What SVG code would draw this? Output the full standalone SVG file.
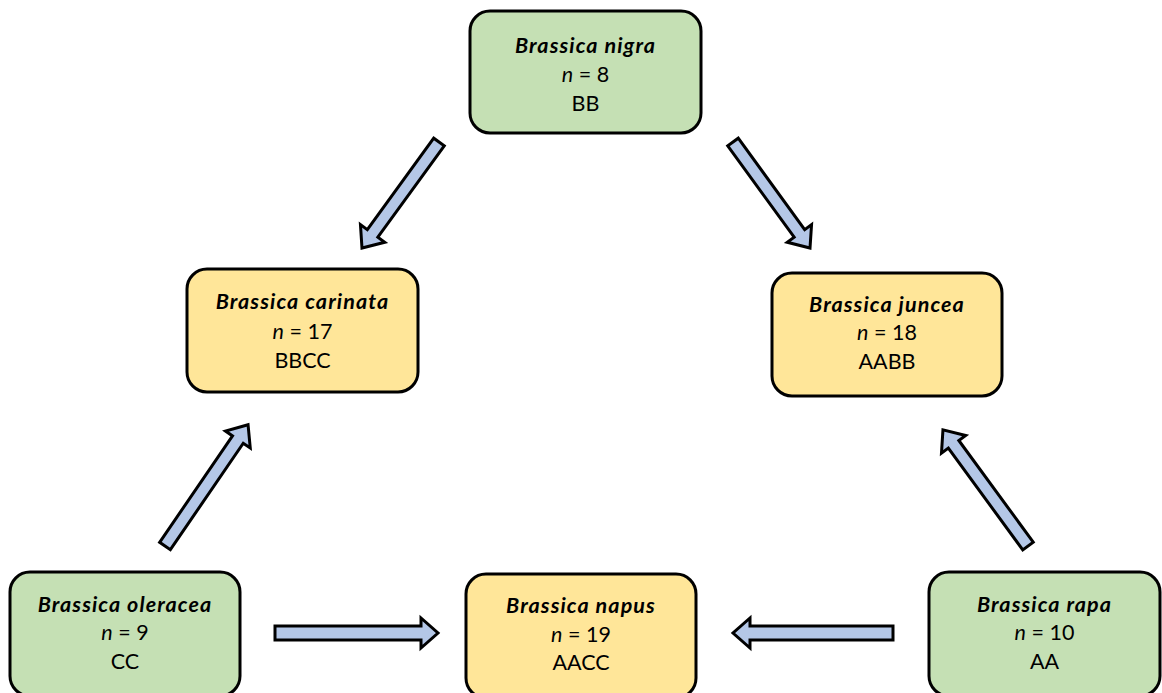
<svg xmlns="http://www.w3.org/2000/svg" width="1162" height="693" viewBox="0 0 1162 693">
<style>
.box{stroke:#000;stroke-width:3}
.g{fill:#c5e0b4}
.y{fill:#ffe699}
text{font-family:Lato,"Open Sans","Liberation Sans",sans-serif;font-size:21.5px;fill:#000;text-anchor:middle}
.t{font-weight:bold;font-style:italic;letter-spacing:1.1px}
.i{font-style:italic}
.arr{fill:#b4c7e7;stroke:#000;stroke-width:3;stroke-linejoin:miter}
</style>
<rect width="1162" height="693" fill="#fff"/>
<g id="connectors">
<polygon class="arr" transform="translate(439,142) rotate(126)" points="0,-6.5 113,-6.5 113,-15 131,0 113,15 113,6.5 0,6.5"/>
<polygon class="arr" transform="translate(733,142) rotate(54)" points="0,-6.5 113,-6.5 113,-15 131,0 113,15 113,6.5 0,6.5"/>
<polygon class="arr" transform="translate(165,546) rotate(-55.6)" points="0,-6.5 129,-6.5 129,-15 147,0 129,15 129,6.5 0,6.5"/>
<polygon class="arr" transform="translate(1028,546) rotate(-126.2)" points="0,-6.5 126,-6.5 126,-15 144,0 126,15 126,6.5 0,6.5"/>
<polygon class="arr" transform="translate(275,633)" points="0,-7 146,-7 146,-15 163,0 146,15 146,7 0,7"/>
<polygon class="arr" transform="translate(893,633) rotate(180)" points="0,-7 143,-7 143,-15 160,0 143,15 143,7 0,7"/>
</g>
<g id="nigra">
<rect class="box g" x="470" y="11" width="231" height="122" rx="20"/>
<text class="t" x="585.5" y="53">Brassica nigra</text>
<text x="585.5" y="82"><tspan class="i">n</tspan> = 8</text>
<text x="585.5" y="111">BB</text>
</g>
<g id="carinata">
<rect class="box y" x="187" y="269" width="231" height="123" rx="20"/>
<text class="t" x="302.5" y="309">Brassica carinata</text>
<text x="302.5" y="339"><tspan class="i">n</tspan> = 17</text>
<text x="302.5" y="368">BBCC</text>
</g>
<g id="juncea">
<rect class="box y" x="772" y="273" width="230" height="123" rx="20"/>
<text class="t" x="887" y="312">Brassica juncea</text>
<text x="887" y="340"><tspan class="i">n</tspan> = 18</text>
<text x="887" y="369">AABB</text>
</g>
<g id="oleracea">
<rect class="box g" x="10" y="572" width="230" height="124" rx="20"/>
<text class="t" x="125" y="612">Brassica oleracea</text>
<text x="125" y="640"><tspan class="i">n</tspan> = 9</text>
<text x="125" y="669">CC</text>
</g>
<g id="napus">
<rect class="box y" x="466" y="574" width="230" height="124" rx="20"/>
<text class="t" x="581" y="613">Brassica napus</text>
<text x="581" y="642"><tspan class="i">n</tspan> = 19</text>
<text x="581" y="670">AACC</text>
</g>
<g id="rapa">
<rect class="box g" x="929" y="572" width="231" height="124" rx="20"/>
<text class="t" x="1044.5" y="612">Brassica rapa</text>
<text x="1044.5" y="640"><tspan class="i">n</tspan> = 10</text>
<text x="1044.5" y="669">AA</text>
</g>
</svg>
